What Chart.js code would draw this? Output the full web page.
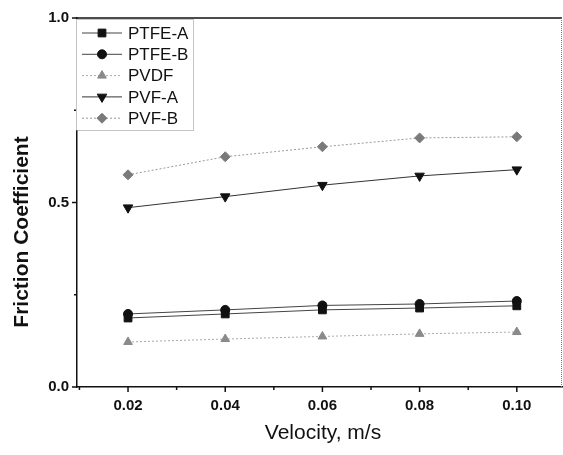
<!DOCTYPE html>
<html>
<head>
<meta charset="utf-8">
<script src="https://cdn.jsdelivr.net/npm/chart.js@4/dist/chart.umd.min.js"></script>
<style>
html,body{margin:0;padding:0;background:#fff;overflow:hidden;}
#wrap{width:563px;height:455px;position:relative;}
canvas{display:block;}
</style>
</head>
<body>
<div id="wrap"><canvas id="c" width="563" height="455"></canvas></div>
<script>
const velocity = [0.02, 0.04, 0.06, 0.08, 0.10];
const seriesNames = ["PTFE-A", "PTFE-B", "PVDF", "PVF-A", "PVF-B"];
const ptfeA = [0.187, 0.198, 0.209, 0.214, 0.220];
const ptfeB = [0.198, 0.209, 0.221, 0.225, 0.233];
const pvdf  = [0.122, 0.130, 0.137, 0.144, 0.149];
const pvfA  = [0.486, 0.516, 0.547, 0.572, 0.589];
const pvfB  = [0.575, 0.624, 0.651, 0.675, 0.678];
const xTicks = [0.02, 0.04, 0.06, 0.08, 0.10];
const xMinor = [0.01, 0.03, 0.05, 0.07, 0.09];
const yTicks = [0.0, 0.5, 1.0];
const yMinor = [0.25, 0.75];

function pts(vals){ return velocity.map((v,i)=>({x:v, y:vals[i]})); }

const styles = [
  {data: ptfeA, pointStyle:'rect', color:'#111', line:'#444', dash:[], radius:5.5, rotation:0},
  {data: ptfeB, pointStyle:'circle', color:'#111', line:'#444', dash:[], radius:4.5, rotation:0},
  {data: pvdf, pointStyle:'triangle', color:'#8a8a8a', line:'#aaa', dash:[2,2], radius:5, rotation:0},
  {data: pvfA, pointStyle:'triangle', color:'#111', line:'#333', dash:[], radius:5.5, rotation:180},
  {data: pvfB, pointStyle:'rectRot', color:'#7a7a7a', line:'#999', dash:[2,2], radius:5, rotation:0}
];

const datasets = styles.map((s,i)=>({
  label: seriesNames[i],
  data: pts(s.data),
  borderColor: s.line,
  backgroundColor: s.color,
  pointBackgroundColor: s.color,
  pointBorderColor: s.color,
  borderWidth: 1,
  borderDash: s.dash,
  pointStyle: s.pointStyle,
  pointRadius: s.radius,
  pointRotation: s.rotation,
  pointBorderWidth: 1,
  tension: 0,
  fill: false
}));

const decor = {
  id:'decor',
  afterDraw(chart){
    const ctx = chart.ctx, a = chart.chartArea;
    const xs = chart.scales.x, ys = chart.scales.y;
    ctx.save();
    ctx.strokeStyle = '#111'; ctx.lineWidth = 1.5;
    ctx.beginPath();
    ctx.moveTo(a.left, a.top); ctx.lineTo(a.right, a.top);
    ctx.stroke();
    ctx.strokeStyle = '#777'; ctx.lineWidth = 1; ctx.setLineDash([1,1]);
    ctx.beginPath();
    ctx.moveTo(a.right-0.5, a.top); ctx.lineTo(a.right-0.5, a.bottom);
    ctx.stroke();
    ctx.setLineDash([]);
    ctx.strokeStyle = '#111'; ctx.lineWidth = 1.5;
    ctx.beginPath();
    xTicks.forEach(v=>{ const p = xs.getPixelForValue(v); ctx.moveTo(p, a.bottom); ctx.lineTo(p, a.bottom+5); });
    xMinor.forEach(v=>{ const p = xs.getPixelForValue(v); if(p>=a.left-1 && p<=a.right){ ctx.moveTo(p, a.bottom); ctx.lineTo(p, a.bottom+3);} });
    yTicks.forEach(v=>{ const p = ys.getPixelForValue(v); ctx.moveTo(a.left, p); ctx.lineTo(a.left-5, p); });
    yMinor.forEach(v=>{ const p = ys.getPixelForValue(v); ctx.moveTo(a.left, p); ctx.lineTo(a.left-3, p); });
    ctx.stroke();
    ctx.fillStyle = '#111';
    ctx.font = '21px "Liberation Sans", Arial, sans-serif';
    ctx.textAlign = 'center'; ctx.textBaseline = 'middle';
    ctx.fillText('Velocity, m/s', 323, 433);
    ctx.save();
    ctx.translate(22, 232); ctx.rotate(-Math.PI/2);
    ctx.font = 'bold 21px "Liberation Sans", Arial, sans-serif';
    ctx.fillText('Friction Coefficient', 0, 0);
    ctx.restore();
    const lx = 76, ly = 19, lw = 117, lh = 111;
    ctx.fillStyle = '#fff';
    ctx.fillRect(lx, ly, lw, lh);
    ctx.strokeStyle = '#888'; ctx.lineWidth = 1; ctx.setLineDash([1,1]);
    ctx.strokeRect(lx+0.5, ly+0.5, lw, lh);
    ctx.setLineDash([]);
    chart.data.datasets.forEach((ds,i)=>{
      const y = 33 + i*21.3;
      ctx.strokeStyle = ds.borderColor; ctx.lineWidth = 1;
      ctx.setLineDash(ds.borderDash);
      ctx.beginPath(); ctx.moveTo(82, y); ctx.lineTo(122, y); ctx.stroke();
      ctx.setLineDash([]);
      ctx.fillStyle = ds.pointBackgroundColor; ctx.strokeStyle = ds.pointBorderColor;
      Chart.helpers.drawPoint(ctx, {pointStyle: ds.pointStyle, radius: ds.pointRadius, rotation: ds.pointRotation, borderWidth: 1}, 102, y);
      ctx.fillStyle = '#111';
      ctx.font = '17px "Liberation Sans", Arial, sans-serif';
      ctx.textAlign = 'left'; ctx.textBaseline = 'middle';
      ctx.fillText(ds.label, 128, y+1);
    });
    ctx.restore();
  }
};

new Chart(document.getElementById('c'), {
  type:'line',
  data:{datasets},
  options:{
    responsive:false,
    animation:false,
    layout:{autoPadding:false, padding:{left:0, right:1, top:18, bottom:0}},
    plugins:{legend:{display:false}, tooltip:{enabled:false}},
    scales:{
      x:{
        type:'linear', min:0.0095, max:0.1093,
        afterBuildTicks(s){ s.ticks = xTicks.map(v=>({value:v})); },
        afterFit(s){ s.height = 68; s.paddingLeft = 0; s.paddingRight = 0; },
        grid:{display:false, drawTicks:false},
        border:{display:true, color:'#111', width:1.5},
        ticks:{padding:10, color:'#111', font:{family:'"Liberation Sans", Arial, sans-serif', size:15, weight:'bold'},
               callback:(v)=>Number(v).toFixed(2), maxRotation:0}
      },
      y:{
        type:'linear', min:0, max:1.0,
        afterBuildTicks(s){ s.ticks = yTicks.map(v=>({value:v})); },
        afterFit(s){ s.width = 77; s.paddingTop = 0; s.paddingBottom = 0; },
        grid:{display:false, drawTicks:false},
        border:{display:true, color:'#111', width:1.5},
        ticks:{padding:8, color:'#111', font:{family:'"Liberation Sans", Arial, sans-serif', size:15, weight:'bold'},
               callback:(v)=>Number(v).toFixed(1)}
      }
    }
  },
  plugins:[decor]
});
</script>
</body>
</html>
